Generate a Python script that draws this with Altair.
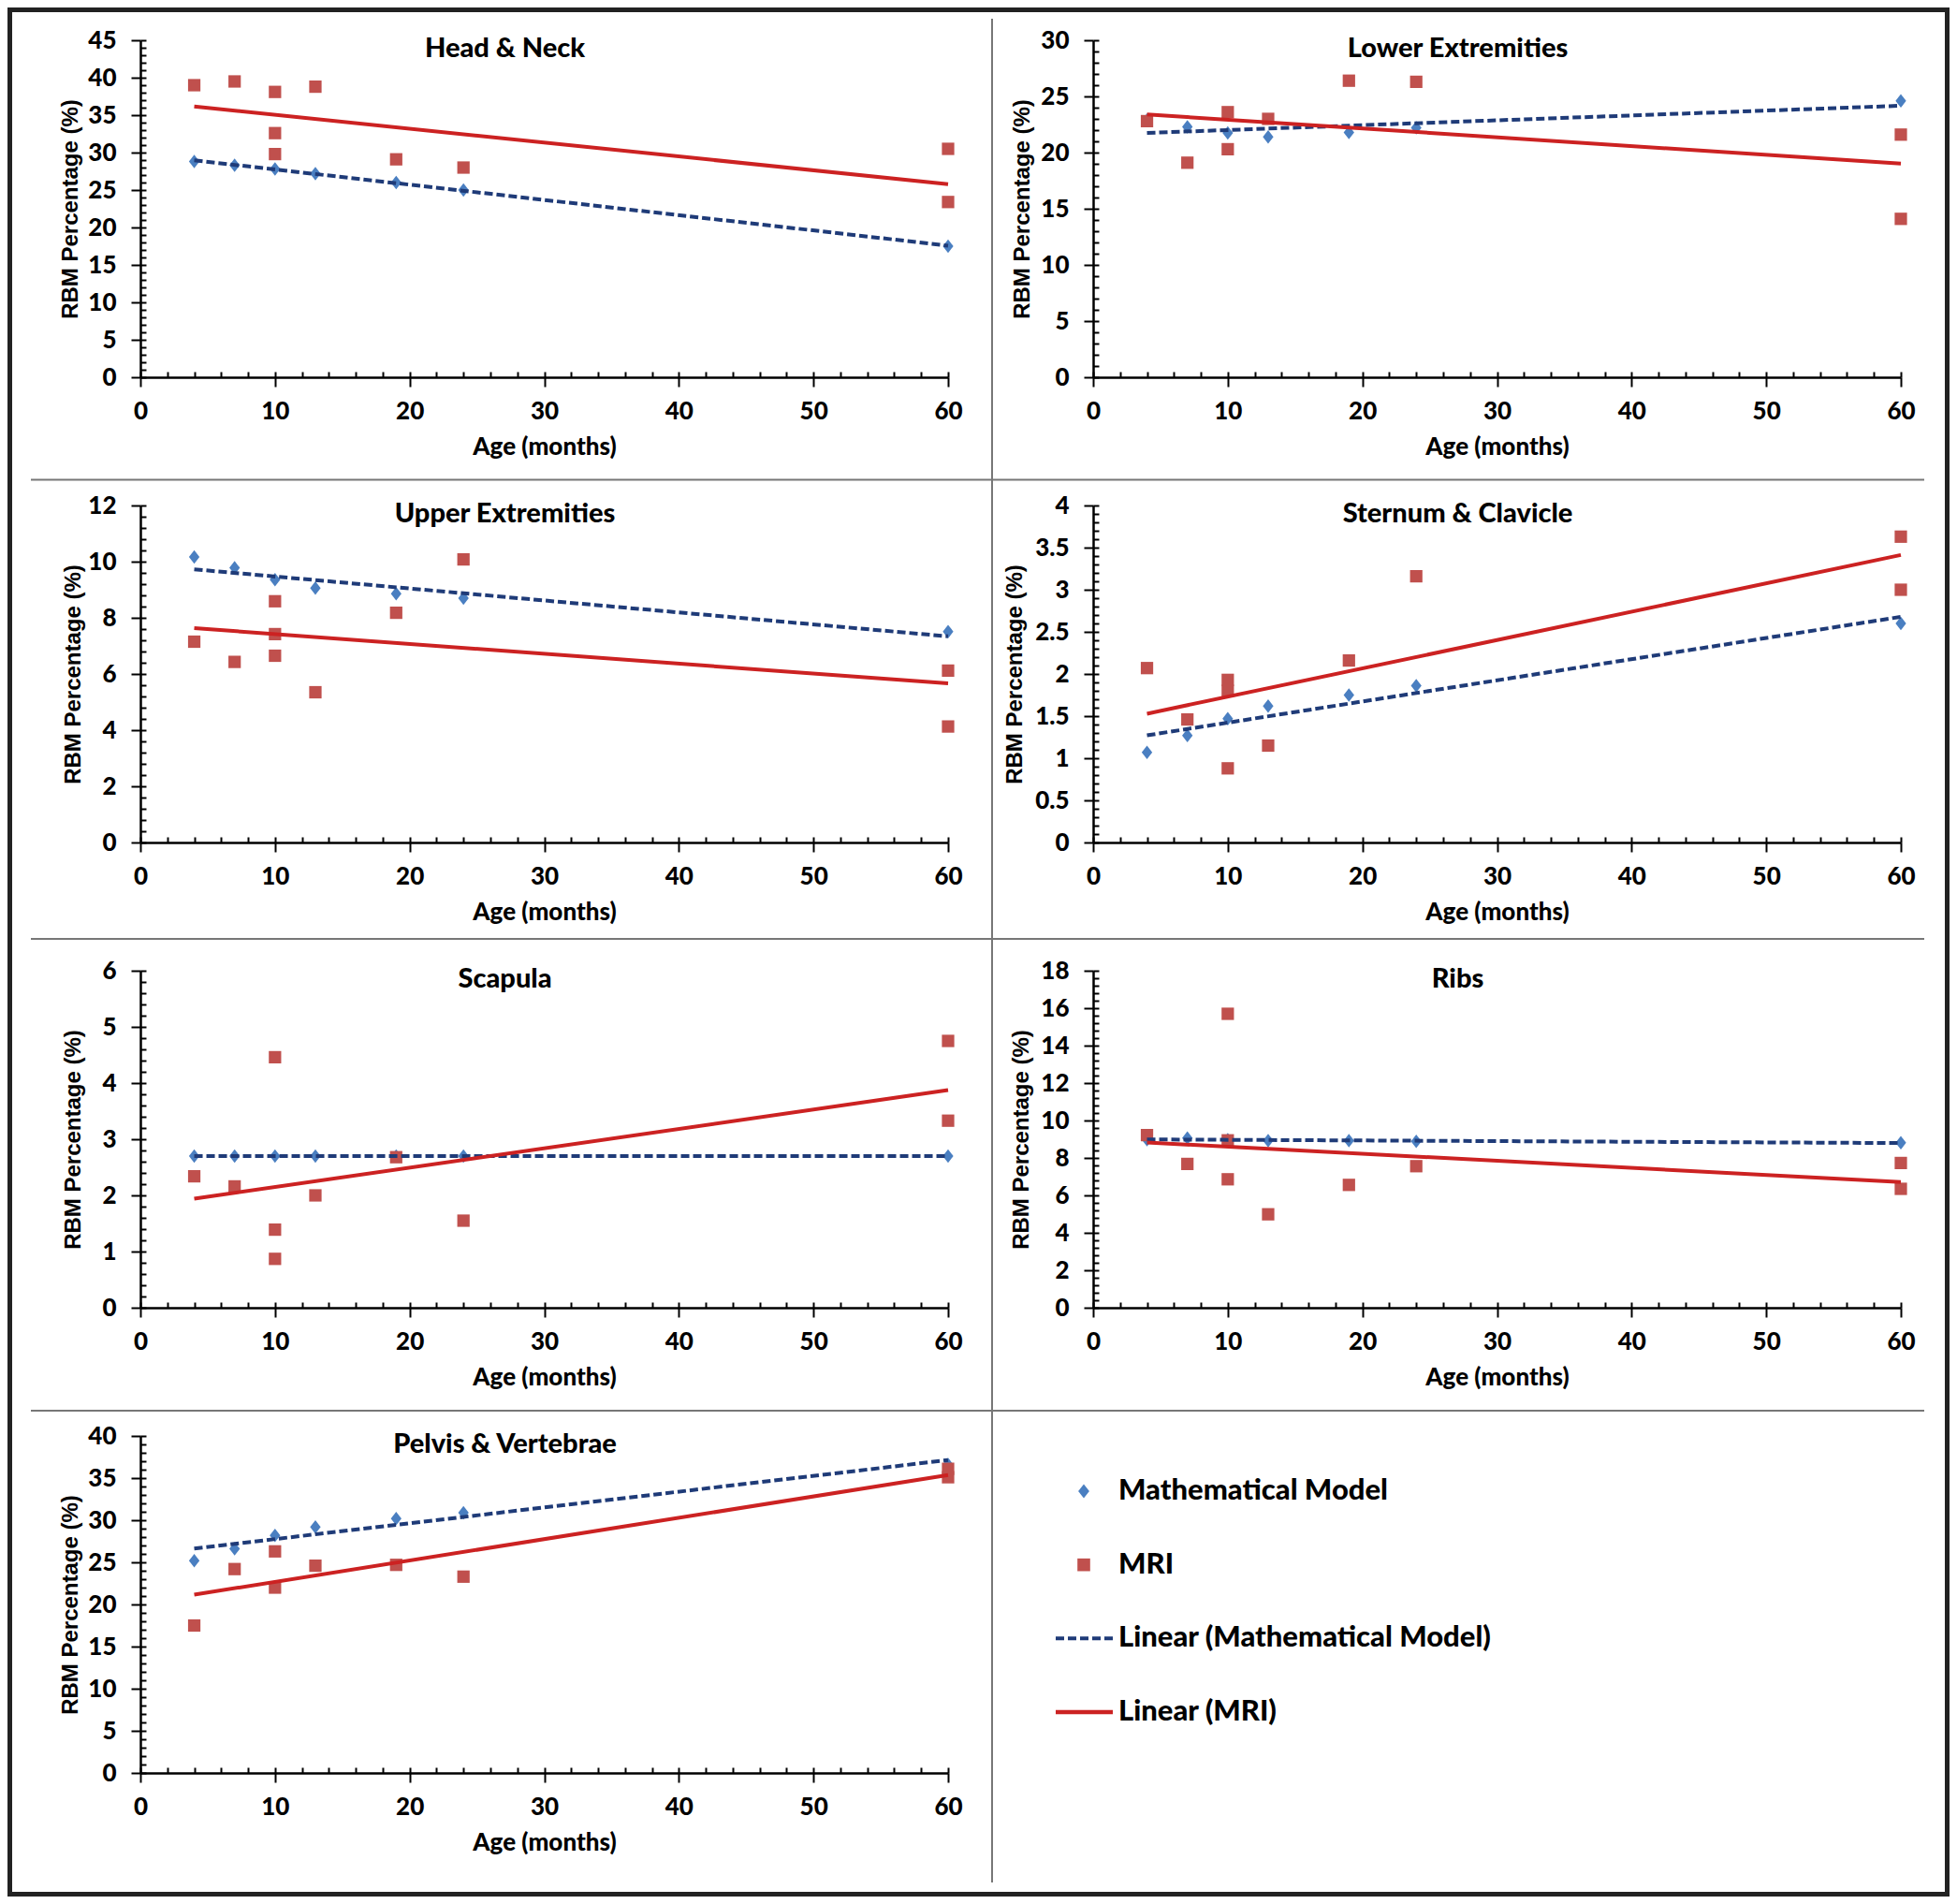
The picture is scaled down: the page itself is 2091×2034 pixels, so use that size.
import altair as alt
import pandas as pd

# ---------------- data ----------------
AGES_MODEL = [4, 7, 10, 13, 19, 24, 60]

REGIONS = ["Head & Neck", "Lower Extremities", "Upper Extremities",
           "Sternum & Clavicle", "Scapula", "Ribs", "Pelvis & Vertebrae"]
Y_MAX = [45, 30, 12, 4, 6, 18, 40]
Y_MAJOR = [5, 5, 2, 0.5, 1, 2, 5]

HN_MODEL = [28.8, 28.3, 27.8, 27.2, 26.0, 25.0, 17.5]
HN_MRI_AGE = [4, 7, 10, 10, 10, 13, 19, 24, 60, 60]
HN_MRI = [39.0, 39.5, 38.1, 32.6, 29.8, 38.8, 29.1, 28.0, 30.5, 23.4]

LE_MODEL = [22.9, 22.3, 21.75, 21.4, 21.8, 22.2, 24.6]
LE_MRI_AGE = [4, 7, 10, 10, 13, 19, 24, 60, 60]
LE_MRI = [22.8, 19.1, 23.6, 20.3, 23.0, 26.4, 26.3, 21.6, 14.1]

UE_MODEL = [10.17, 9.78, 9.36, 9.06, 8.86, 8.70, 7.51]
UE_MRI_AGE = [4, 7, 10, 10, 10, 13, 19, 24, 60, 60]
UE_MRI = [7.15, 6.43, 8.59, 7.42, 6.65, 5.35, 8.18, 10.08, 6.12, 4.13]

SC_MODEL = [1.07, 1.27, 1.47, 1.62, 1.75, 1.86, 2.60]
SC_MRI_AGE = [4, 7, 10, 10, 10, 13, 19, 24, 60, 60]
SC_MRI = [2.07, 1.46, 1.93, 1.80, 0.88, 1.15, 2.16, 3.16, 3.63, 3.00]

SCAP_MODEL = [2.7, 2.7, 2.7, 2.7, 2.7, 2.7, 2.7]
SCAP_MRI_AGE = [4, 7, 10, 10, 10, 13, 19, 24, 60, 60]
SCAP_MRI = [2.34, 2.16, 4.46, 1.39, 0.87, 2.00, 2.68, 1.55, 4.75, 3.33]

RIBS_MODEL = [8.97, 9.06, 8.97, 8.92, 8.92, 8.89, 8.81]
RIBS_MRI_AGE = [4, 7, 10, 10, 10, 13, 19, 24, 60, 60]
RIBS_MRI = [9.22, 7.68, 15.7, 8.94, 6.86, 4.99, 6.56, 7.56, 7.73, 6.35]

PV_MODEL = [25.2, 26.6, 28.2, 29.2, 30.2, 30.9, 36.6]
PV_MRI_AGE = [4, 7, 10, 10, 13, 19, 24, 60, 60]
PV_MRI = [17.5, 24.2, 26.3, 22.0, 24.6, 24.7, 23.3, 36.1, 35.1]

MODEL_SERIES = [HN_MODEL, LE_MODEL, UE_MODEL, SC_MODEL, SCAP_MODEL, RIBS_MODEL, PV_MODEL]
MRI_AGE_SERIES = [HN_MRI_AGE, LE_MRI_AGE, UE_MRI_AGE, SC_MRI_AGE, SCAP_MRI_AGE, RIBS_MRI_AGE, PV_MRI_AGE]
MRI_SERIES = [HN_MRI, LE_MRI, UE_MRI, SC_MRI, SCAP_MRI, RIBS_MRI, PV_MRI]

LEGEND_LABELS = ["Mathematical Model", "MRI", "Linear (Mathematical Model)", "Linear (MRI)"]

# ---------------- styling ----------------
W, H = 863, 360
SP_COL, SP_ROW = 155, 137
YTITLE_X = [-75, -76, -72, -84, -72, -77, -75]
BLUE = "#4a7fc1"
RED_SQ = "#c0504d"
NAVY = "#1f3b78"
RED_LINE = "#cc2222"
DIAMOND = "M0,-1L0.78,0L0,1L-0.78,0Z"
FONT = "Lato"
YTITLE_FONT = "Liberation Sans"


def make_axes(ymax, major, ytitle_x):
    minor = major / 5.0
    n = int(round(ymax / minor))
    yvals = [round(k * minor, 6) for k in range(n + 1)]
    xvals = list(range(0, 61, 2))
    ymaj = f"abs(datum.value / {major} - round(datum.value / {major})) < 1e-6"
    xmaj = "datum.value % 10 === 0"
    common = dict(
        tickSize=10, tickWidth=2, tickColor="black",
        domainColor="black", domainWidth=2.5,
        labelFont=FONT, labelFontWeight=900, labelFontSize=26, labelColor="black",
        labelOverlap=False, labelFlush=False,
        grid=True, gridColor="black", gridWidth=2,
    )
    x_axis = alt.Axis(
        values=xvals, title="Age (months)",
        labelExpr=f"{xmaj} ? datum.label : ''",
        tickOpacity={"condition": {"test": xmaj, "value": 1}, "value": 0},
        labelPadding=13,
        gridDash=[0, H - 6, 6, 0],
        titleFont=FONT, titleFontWeight=900, titleFontSize=26, titleColor="black",
        titleX=W / 2, titleY=82, titleAlign="center", titleBaseline="alphabetic",
        **common,
    )
    y_axis = alt.Axis(
        values=yvals, title="RBM Percentage (%)",
        labelExpr=f"{ymaj} ? format(datum.value, '~g') : ''",
        tickOpacity={"condition": {"test": ymaj, "value": 1}, "value": 0},
        labelPadding=16,
        gridDash=[6, 5000],
        titleFont=YTITLE_FONT, titleFontWeight="bold", titleFontSize=24, titleColor="black",
        titleX=ytitle_x, titleY=H / 2, titleAngle=270, titleAlign="center", titleBaseline="middle",
        **common,
    )
    return x_axis, y_axis


def make_panel(i, decorations=None):
    name = REGIONS[i]
    ymax, major = Y_MAX[i], Y_MAJOR[i]
    x_axis, y_axis = make_axes(ymax, major, YTITLE_X[i])
    df_model = pd.DataFrame({"age": AGES_MODEL, "rbm": MODEL_SERIES[i]})
    df_mri = pd.DataFrame({"age": MRI_AGE_SERIES[i], "rbm": MRI_SERIES[i]})
    x = alt.X("age:Q", scale=alt.Scale(domain=[0, 60], nice=False), axis=x_axis)
    y = alt.Y("rbm:Q", scale=alt.Scale(domain=[0, ymax], nice=False), axis=y_axis)

    model_pts = alt.Chart(df_model).mark_point(
        shape=DIAMOND, filled=True, color=BLUE, size=210, opacity=1
    ).encode(x=x, y=y)
    mri_pts = alt.Chart(df_mri).mark_square(
        color=RED_SQ, size=175, opacity=1
    ).encode(x=x, y=y)
    model_fit = alt.Chart(df_model).transform_regression("age", "rbm").mark_line(
        color=NAVY, strokeWidth=4, strokeDash=[9, 4]
    ).encode(x=x, y=y)
    mri_fit = alt.Chart(df_mri).transform_regression("age", "rbm").mark_line(
        color=RED_LINE, strokeWidth=4
    ).encode(x=x, y=y)
    title = alt.Chart(pd.DataFrame({"region": [name]})).mark_text(
        font=FONT, fontWeight=900, fontSize=29, align="center",
        baseline="alphabetic", color="black"
    ).encode(text="region:N", x=alt.value(W / 2 - 42), y=alt.value(18))

    layers = [model_pts, mri_pts, model_fit, mri_fit, title]
    if decorations:
        layers = decorations + layers
    return alt.layer(*layers).properties(width=W, height=H)


# frame and dividers, drawn relative to the first panel's plot origin
one = pd.DataFrame({"k": [0]})
frame = alt.Chart(one).mark_rect(
    fillOpacity=0, stroke="#222222", strokeWidth=5
).encode(x=alt.value(-139.5), x2=alt.value(1930.5), y=alt.value(-32.5), y2=alt.value(1980.5))
dividers = []
for yy in (469.5, 960, 1464):
    dividers.append(alt.Chart(one).mark_rule(color="#777777", strokeWidth=2).encode(
        x=alt.value(-117), x2=alt.value(1906), y=alt.value(yy)))
dividers.append(alt.Chart(one).mark_rule(color="#777777", strokeWidth=2).encode(
    x=alt.value(910), y=alt.value(-23), y2=alt.value(1968)))

panels = [make_panel(0, [frame] + dividers)] + [make_panel(i) for i in range(1, 7)]

# legend cell
leg_df = pd.DataFrame({"label": LEGEND_LABELS})
ly = alt.Y("label:N", sort=LEGEND_LABELS,
           scale=alt.Scale(type="point", range=[59, 295], padding=0), axis=None)
leg_text = alt.Chart(leg_df).mark_text(
    align="left", baseline="middle", font=FONT, fontWeight=900, fontSize=31, color="black"
).encode(x=alt.value(27), y=ly, text="label:N")
leg_diamond = alt.Chart(leg_df).transform_filter(
    alt.datum.label == LEGEND_LABELS[0]
).mark_point(shape=DIAMOND, filled=True, color=BLUE, size=230, opacity=1).encode(
    x=alt.value(-10), y=ly)
leg_square = alt.Chart(leg_df).transform_filter(
    alt.datum.label == LEGEND_LABELS[1]
).mark_square(color=RED_SQ, size=185, opacity=1).encode(x=alt.value(-10), y=ly)
leg_dash = alt.Chart(leg_df).transform_filter(
    alt.datum.label == LEGEND_LABELS[2]
).mark_rule(color=NAVY, strokeWidth=4, strokeDash=[9, 4]).encode(
    x=alt.value(-40), x2=alt.value(21), y=ly)
leg_line = alt.Chart(leg_df).transform_filter(
    alt.datum.label == LEGEND_LABELS[3]
).mark_rule(color=RED_LINE, strokeWidth=4.5).encode(
    x=alt.value(-40), x2=alt.value(21), y=ly)
legend = alt.layer(leg_diamond, leg_square, leg_dash, leg_line, leg_text).properties(
    width=W, height=H)

chart = alt.concat(
    *panels, legend, columns=2,
    spacing={"row": SP_ROW, "column": SP_COL}, bounds="flush"
).properties(padding=0, background="white").configure_view(strokeWidth=0)

chart.save("out.html", embed_options={"renderer": "svg", "actions": False})
